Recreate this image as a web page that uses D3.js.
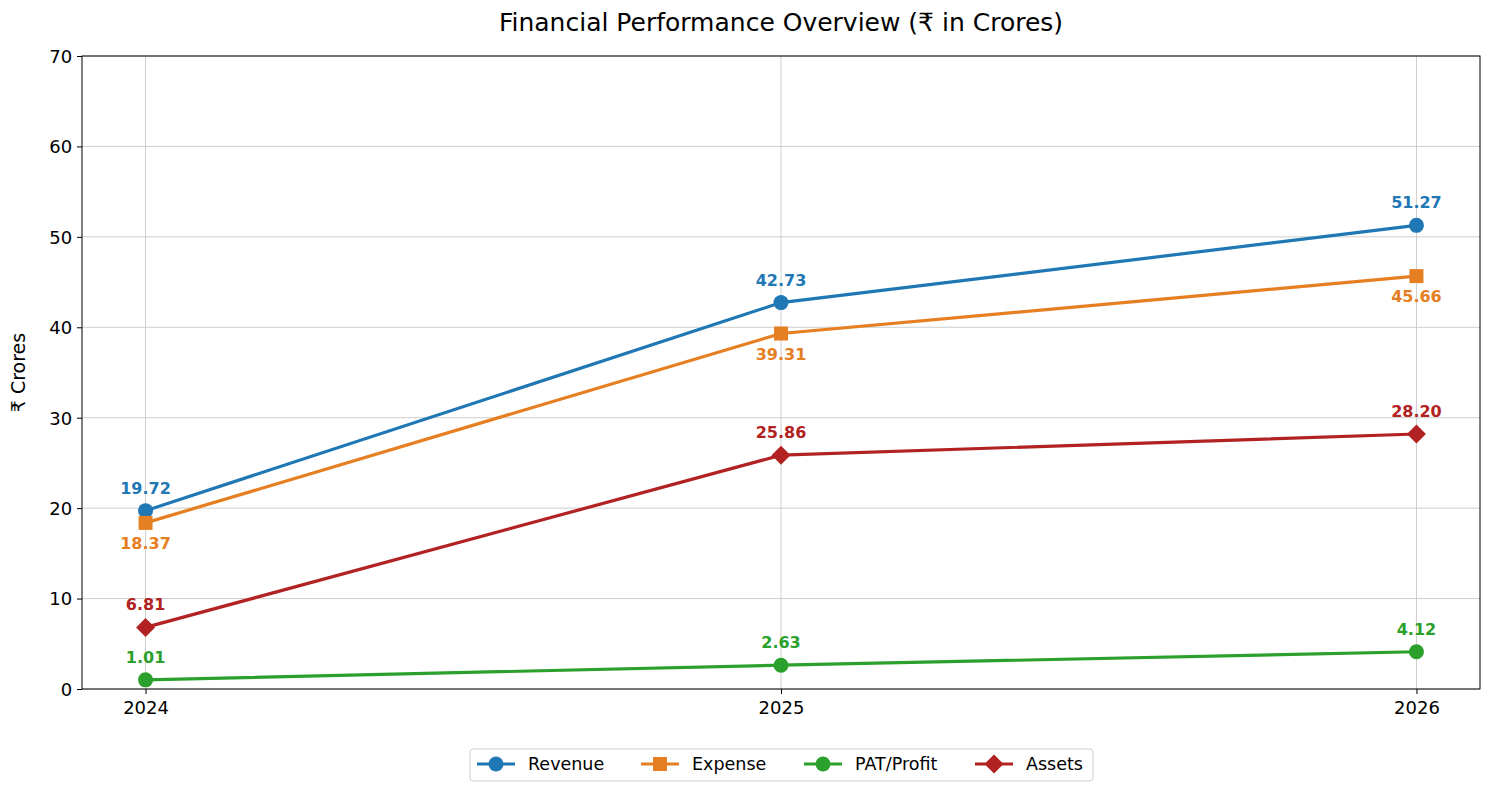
<!DOCTYPE html>
<html>
<head>
<meta charset="utf-8">
<script src="https://cdn.jsdelivr.net/npm/d3@7"></script>
<style>
  body { margin: 0; background: #fff; }
  text { font-family: "DejaVu Sans", sans-serif; }
</style>
</head>
<body>
<svg id="chart" width="1489" height="791"></svg>
<script>
// data
const years = [2024, 2025, 2026];
const revenue = [19.72, 42.73, 51.27];
const expense = [18.37, 39.31, 45.66];
const profit = [1.01, 2.63, 4.12];
const assets = [6.81, 25.86, 28.20];
const yTicks = [0, 10, 20, 30, 40, 50, 60, 70];

const series = [
  { name: "Revenue", values: revenue, color: "#1f77b4", marker: "circle", labelPos: "above" },
  { name: "Expense", values: expense, color: "#e67e22", marker: "square", labelPos: "below" },
  { name: "PAT/Profit", values: profit, color: "#2ca02c", marker: "circle", labelPos: "above" },
  { name: "Assets", values: assets, color: "#b22222", marker: "diamond", labelPos: "above" },
];

const svg = d3.select("#chart");
const margin = { left: 82, right: 1480, top: 56, bottom: 689 };

const x = d3.scaleLinear().domain([2023.9, 2026.1]).range([margin.left, margin.right]);
const y = d3.scaleLinear().domain([0, 70]).range([margin.bottom, margin.top]);

// grid
const grid = svg.append("g");
grid.selectAll("line.gx").data(years).enter().append("line")
  .attr("x1", d => x(d)).attr("x2", d => x(d))
  .attr("y1", margin.top).attr("y2", margin.bottom)
  .attr("stroke", "#c8c8c8").attr("stroke-width", 0.9);
grid.selectAll("line.gy").data(yTicks).enter().append("line")
  .attr("x1", margin.left).attr("x2", margin.right)
  .attr("y1", d => y(d)).attr("y2", d => y(d))
  .attr("stroke", "#c8c8c8").attr("stroke-width", 0.9);

// axes
const xAxis = svg.append("g")
  .attr("transform", `translate(0,${margin.bottom})`)
  .call(d3.axisBottom(x).tickValues(years).tickFormat(d3.format("d")).tickSize(5).tickSizeOuter(0));
const yAxis = svg.append("g")
  .attr("transform", `translate(${margin.left},0)`)
  .call(d3.axisLeft(y).tickValues(yTicks).tickSize(5).tickSizeOuter(0));
[xAxis, yAxis].forEach(a => {
  a.select(".domain").remove();
  a.selectAll("text").style("font-size", "18px").attr("fill", "#000");
  a.selectAll("line").attr("stroke", "#000");
});
xAxis.selectAll("text").attr("dy", "0.95em");
yAxis.selectAll("text").attr("dx", "-0.1em").attr("dy", "0.35em");

// frame
svg.append("rect")
  .attr("x", margin.left).attr("y", margin.top)
  .attr("width", margin.right - margin.left).attr("height", margin.bottom - margin.top)
  .attr("fill", "none").attr("stroke", "#000").attr("stroke-width", 1);

// title and y label
svg.append("text")
  .attr("x", (margin.left + margin.right) / 2).attr("y", 31)
  .attr("text-anchor", "middle").style("font-size", "25px").text("Financial Performance Overview (₹ in Crores)");
svg.append("text")
  .attr("transform", `translate(25,${(margin.top + margin.bottom) / 2}) rotate(-90)`)
  .attr("text-anchor", "middle").style("font-size", "19px").text("₹ Crores");

const drawMarker = (g, type, cx, cy, color, s) => {
  if (type === "circle") {
    g.append("circle").attr("cx", cx).attr("cy", cy).attr("r", 7.5 * s).attr("fill", color);
  } else if (type === "square") {
    g.append("rect").attr("x", cx - 7 * s).attr("y", cy - 7 * s)
      .attr("width", 14 * s).attr("height", 14 * s).attr("fill", color);
  } else {
    const r = 9.5 * s;
    g.append("path")
      .attr("d", `M${cx},${cy - r}L${cx + r},${cy}L${cx},${cy + r}L${cx - r},${cy}Z`)
      .attr("fill", color);
  }
};

const line = d3.line().x((d, i) => x(years[i])).y(d => y(d));
const plot = svg.append("g");
series.forEach(s => {
  plot.append("path").datum(s.values)
    .attr("d", line).attr("fill", "none")
    .attr("stroke", s.color).attr("stroke-width", 3.2);
});
series.forEach(s => {
  s.values.forEach((v, i) => {
    drawMarker(plot, s.marker, x(years[i]), y(v), s.color, 1);
  });
});
series.forEach(s => {
  s.values.forEach((v, i) => {
    plot.append("text")
      .attr("x", x(years[i])).attr("y", y(v) + (s.labelPos === "above" ? -17 : 26))
      .attr("text-anchor", "middle")
      .style("font-size", "16px").style("font-weight", "bold")
      .attr("fill", s.color)
      .text(v.toFixed(2));
  });
});

// legend
const legend = svg.append("g");
legend.append("rect")
  .attr("x", 470).attr("y", 749).attr("width", 623).attr("height", 32)
  .attr("rx", 3).attr("fill", "#fff").attr("stroke", "#d0d0d0");
const legendX = [477, 641, 804, 975];
series.forEach((s, i) => {
  const lx = legendX[i], ly = 764;
  legend.append("line").attr("x1", lx).attr("x2", lx + 38).attr("y1", ly).attr("y2", ly)
    .attr("stroke", s.color).attr("stroke-width", 3.2);
  drawMarker(legend, s.marker, lx + 19, ly, s.color, 1);
  legend.append("text").attr("x", lx + 51).attr("y", ly).attr("dy", "0.35em")
    .style("font-size", "17.5px").text(s.name);
});
</script>
</body>
</html>
